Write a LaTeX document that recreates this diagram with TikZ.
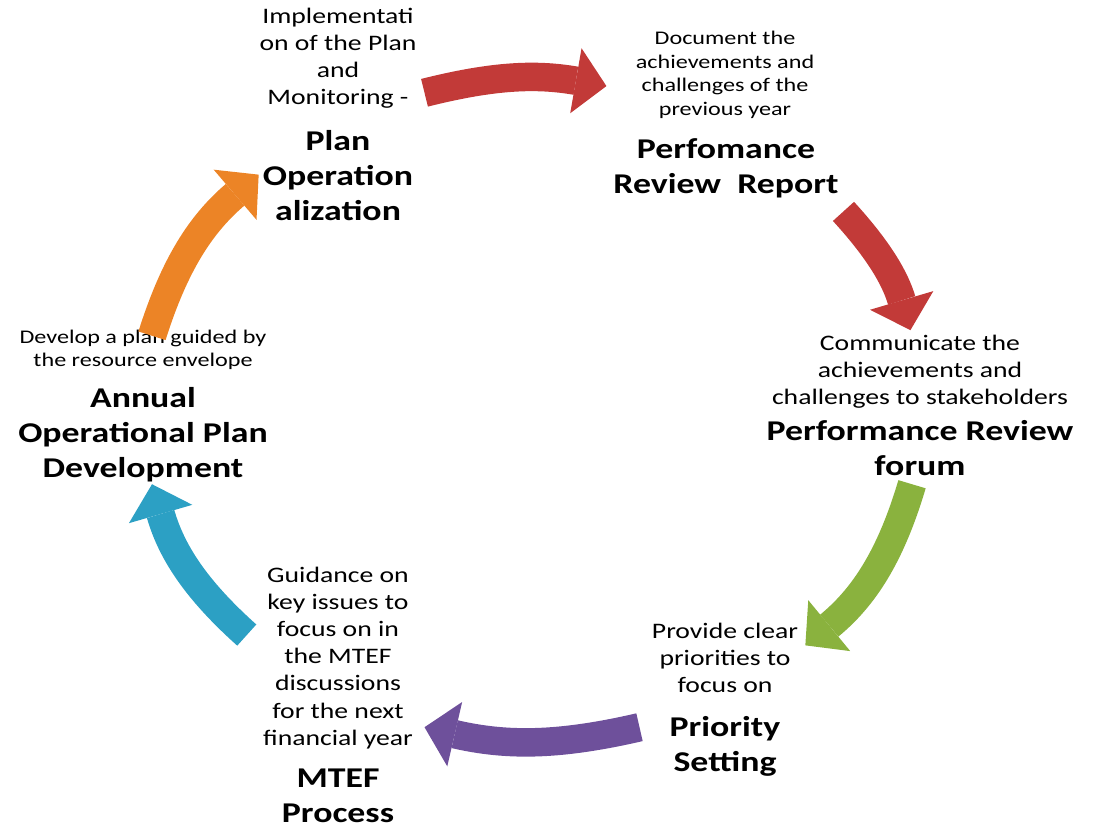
\documentclass[tikz,border=0pt]{standalone}
\usepackage{fontspec}
\setmainfont{Carlito}[FakeStretch=1.25]
\usetikzlibrary{arrows.meta, calc}

\definecolor{CycleRed}{RGB}{194, 58, 56}
\definecolor{CycleGreen}{RGB}{138, 178, 62}
\definecolor{CyclePurple}{RGB}{110, 80, 155}
\definecolor{CycleBlue}{RGB}{44, 160, 196}
\definecolor{CycleOrange}{RGB}{236, 132, 38}

\begin{document}
\begin{tikzpicture}[
    x=0.02cm, y=0.02cm,
    every node/.style={align=center, inner sep=0pt},
    desc/.style={font=\fontsize{12.6}{15.4}\selectfont},
    descsmall/.style={font=\fontsize{11}{13.4}\selectfont},
    stage/.style={font=\fontsize{16.3}{19.9}\selectfont\bfseries},
    cyclearrow/.style={line width=0.57cm,
                       -{Triangle[length=0.62cm, width=1.32cm, line width=0pt]}}
]
\useasboundingbox (0,0) rectangle (1095,829);

% texts of the six stages
\node[desc] (impl) at (338,771) {Implementati\\on of the Plan\\and\\Monitoring -};
\node[stage] (planop) at (338,653) {Plan\\Operation\\alization};
\node[descsmall] (docu) at (725,754) {Document the\\achievements and\\challenges of the\\previous year};
\node[stage] (perfrep) at (726,661) {Perfomance\\Review~~Report};
\node[desc] (comm) at (920,457) {Communicate the\\achievements and\\challenges to stakeholders};
\node[stage] (forum) at (920,381) {Performance Review\\forum};
\node[desc] (prov) at (725,171) {Provide clear\\priorities to\\focus on};
\node[stage] (prio) at (725,83) {Priority\\Setting};
\node[desc] (guid) at (338,171) {Guidance on\\key issues to\\focus on in\\the MTEF\\discussions\\for the next\\financial year};
\node[stage] (mtef) at (338,33) {MTEF\\Process};
\node[descsmall] (devel) at (143,479) {Develop a plan guided by\\the resource envelope};
\node[stage] (annual) at (143,394) {Annual\\Operational Plan\\Development};

% arrow ends on the ellipse round the middle
\coordinate (c) at (532,419);
\coordinate (r1a) at ($(c)+(106:390 and 330)$);
\coordinate (r1b) at ($(c)+(79:390 and 330)$);
\coordinate (r2a) at ($(c)+(37:390 and 330)$);
\coordinate (r2b) at ($(c)+(14:390 and 330)$);
\coordinate (g1a) at ($(c)+(-13:390 and 330)$);
\coordinate (g1b) at ($(c)+(-45.5:390 and 330)$);
\coordinate (p1a) at ($(c)+(-74:390 and 330)$);
\coordinate (p1b) at ($(c)+(-106:390 and 330)$);
\coordinate (b1a) at ($(c)+(-137:390 and 330)$);
\coordinate (b1b) at ($(c)+(-167:390 and 330)$);
\coordinate (o1a) at ($(c)+(167:390 and 330)$);
\coordinate (o1b) at ($(c)+(134.5:390 and 330)$);

\draw[cyclearrow, CycleRed] (r1a) to[bend left=12] (r1b);
\draw[cyclearrow, CycleRed] (r2a) to[bend left=13] (r2b);
\draw[cyclearrow, CycleGreen] (g1a) to[bend left=17] (g1b);
\draw[cyclearrow, CyclePurple] (p1a) to[bend left=13] (p1b);
\draw[cyclearrow, CycleBlue] (b1a) to[bend left=16] (b1b);
\draw[cyclearrow, CycleOrange] (o1a) to[bend left=16] (o1b);
\end{tikzpicture}
\end{document}
